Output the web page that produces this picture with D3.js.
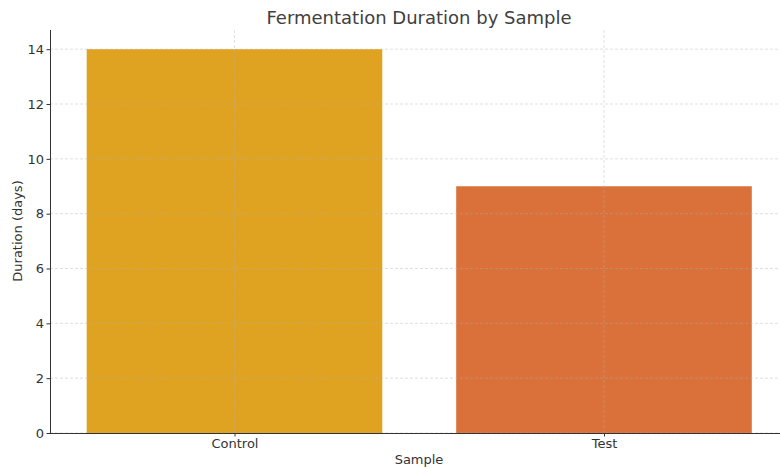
<!DOCTYPE html>
<html><head><meta charset="utf-8">
<script src="https://cdn.jsdelivr.net/npm/d3@7"></script>
<style>body{margin:0;background:#fff}svg{display:block}text{font-family:"DejaVu Sans",sans-serif}</style>
</head><body><svg id="c" width="780" height="468"></svg>
<script>
const categories = ["Control", "Test"];
const durations = [14, 9];
const colors = ["#DFA321", "#DA713A"];
const yTicks = [0, 2, 4, 6, 8, 10, 12, 14];

const svg = d3.select("#c");
const mLeft = 50, mBottom = 433, mTop = 30;
const x = d3.scaleLinear().domain([-0.4993, 1.4993]).range([mLeft, mLeft + 369.5 * 1.9986]);
const y = d3.scaleLinear().domain([0, 14.7]).range([mBottom, mTop]);
const bw = 0.8;
const txt = "#333";

// bars
svg.append("g").selectAll("rect").data(durations).join("rect")
  .attr("x", (d, i) => x(i - bw / 2)).attr("width", (d, i) => x(i + bw / 2) - x(i - bw / 2))
  .attr("y", d => y(d)).attr("height", d => y(0) - y(d))
  .attr("fill", (d, i) => colors[i]);

// grid
const g = svg.append("g");
g.selectAll(".gy").data(yTicks).join("line")
  .attr("x1", mLeft).attr("x2", 780).attr("y1", d => y(d)).attr("y2", d => y(d))
  .attr("stroke", "#b0b0b0").attr("stroke-opacity", 0.5).attr("stroke-width", 0.8).attr("stroke-dasharray", "3,2");
g.selectAll(".gx").data(categories.map((c, i) => i)).join("line")
  .attr("x1", d => x(d)).attr("x2", d => x(d)).attr("y1", mTop).attr("y2", mBottom)
  .attr("stroke", "#b0b0b0").attr("stroke-opacity", 0.5).attr("stroke-width", 0.8).attr("stroke-dasharray", "3,2");

// axes
const yAxis = d3.axisLeft(y).tickValues(yTicks).tickSize(3.5).tickPadding(2.5).tickFormat(d3.format("d"));
const ya = svg.append("g").attr("transform", `translate(${mLeft},0)`).call(yAxis);
const xAxis = d3.axisBottom(x).tickValues([0, 1]).tickSize(3.5).tickPadding(2.5).tickFormat(i => categories[i]);
const xa = svg.append("g").attr("transform", `translate(0,${mBottom})`).call(xAxis);
[ya, xa].forEach(a => {
  a.select(".domain").attr("stroke", "#333").attr("stroke-width", 1);
  a.selectAll(".tick line").attr("stroke", "#333");
  a.selectAll(".tick text").attr("fill", txt).style("font-size", "13px").style("font-family", '"DejaVu Sans",sans-serif');
});
xa.select(".domain").attr("d", `M${mLeft},0.5H780`);
ya.select(".domain").attr("d", `M0.5,${mBottom}V${mTop}`);

svg.append("text").attr("x", 419).attr("y", 24).attr("text-anchor", "middle")
  .attr("fill", "#404040").style("font-size", "18px").text("Fermentation Duration by Sample");
svg.append("text").attr("x", 419).attr("y", 464).attr("text-anchor", "middle")
  .attr("fill", txt).style("font-size", "13px").text("Sample");
svg.append("text").attr("transform", "translate(22,231) rotate(-90)").attr("text-anchor", "middle")
  .attr("fill", txt).style("font-size", "13px").text("Duration (days)");
</script></body></html>
